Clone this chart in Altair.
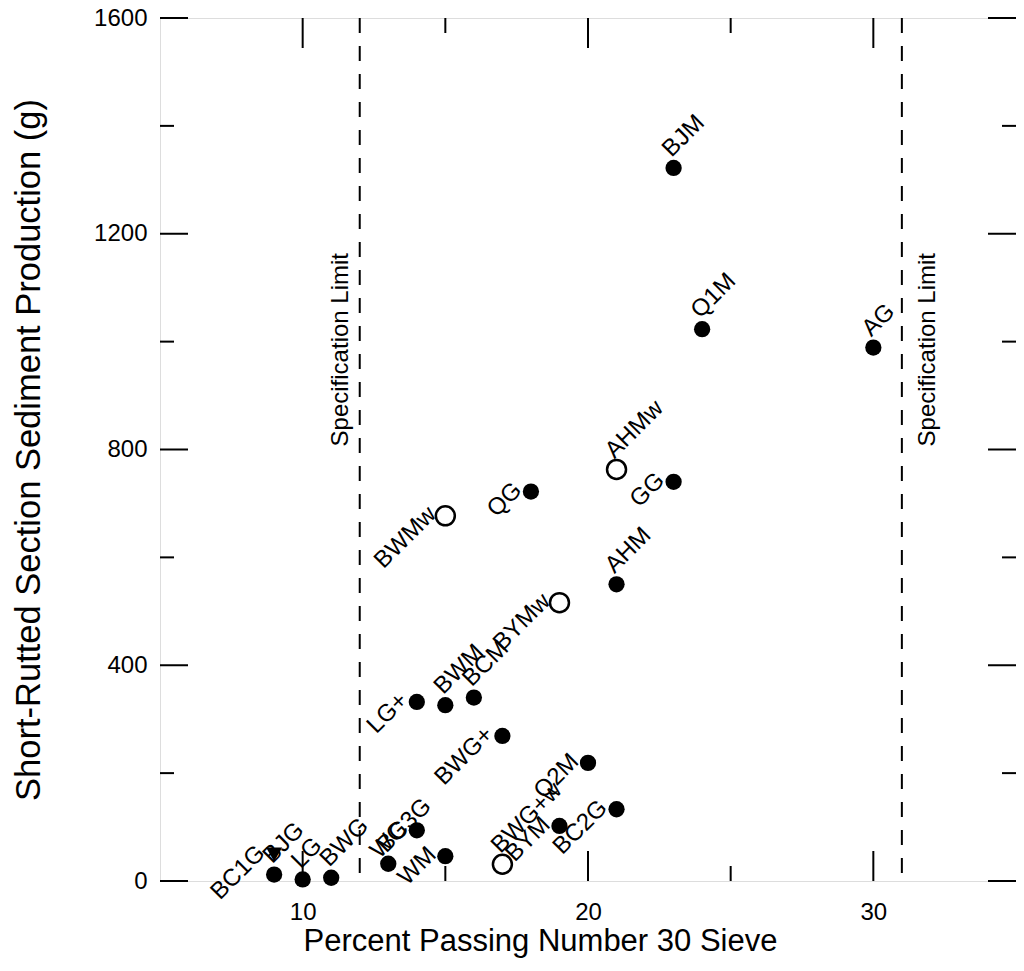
import altair as alt
import pandas as pd

# ---- data ----
names = ["BJM", "Q1M", "AG", "AHMw", "GG", "QG", "BWMw", "AHM", "BYMw",
         "LG+", "BWM", "BCM", "BWG+", "Q2M", "BC2G", "BYM", "BWG+w",
         "BJG", "BC1G", "LG", "BWG", "BC3G", "WG", "WM"]
pct_passing = [23, 24, 30, 21, 23, 18, 15, 21, 19,
               14, 15, 16, 17, 20, 21, 19, 17,
               9, 9, 10, 11, 13, 14, 15]
sediment = [1322, 1023, 989, 763, 740, 722, 677, 550, 516,
            332, 326, 340, 269, 219, 133, 102, 31,
            12, 49, 3, 6, 32, 94, 46]
marker = ["filled", "filled", "filled", "open", "filled", "filled", "open", "filled", "open",
          "filled", "filled", "filled", "filled", "filled", "filled", "filled", "open",
          "filled", "triangle", "filled", "filled", "filled", "filled", "filled"]
# label placement style: "up" = label starts at the point, "left" = label ends at the point
label_side = ["up", "up", "up", "up", "left", "left", "left", "up", "left",
              "left", "up", "up", "left", "left", "left", "left", "up",
              "up", "left", "up", "up", "up", "left", "left"]

x_major = [10, 20, 30]
x_minor = [15, 25]
y_major = [0, 400, 800, 1200, 1600]
y_minor = [200, 600, 1000, 1400]
spec_limits = [12, 31]
spec_text = "Specification Limit"
spec_text_y = 985

W, H = 856, 863
FONT = "Liberation Sans"

df = pd.DataFrame({"name": names, "x": pct_passing, "y": sediment,
                   "marker": marker, "side": label_side})

xs = alt.Scale(domain=[5, 35], nice=False, zero=False)
ys = alt.Scale(domain=[0, 1600], nice=False, zero=False)

x_axis = alt.Axis(values=x_major, format="d", title="Percent Passing Number 30 Sieve",
                  grid=False, ticks=False, tickSize=0, domain=False, labelFontSize=24,
                  labelFont=FONT, labelColor="black", labelPadding=19, labelFlush=False,
                  titleFontSize=31, titleFont=FONT, titleFontWeight="normal",
                  titleColor="black", titleX=380, titleY=60, titleBaseline="middle",
                  titleAlign="center")
y_axis = alt.Axis(values=y_major, format="d",
                  title="Short-Rutted Section Sediment Production (g)",
                  grid=False, ticks=False, tickSize=0, domain=False, labelFontSize=24,
                  labelFont=FONT, labelColor="black", labelPadding=13, labelFlush=False,
                  titleFontSize=34.5, titleFont=FONT, titleFontWeight="normal",
                  titleColor="black", titleX=-131, titleY=H / 2, titleBaseline="middle",
                  titleAlign="center", titleAngle=270)

base = alt.Chart(df)

lab_up = base.transform_filter(alt.datum.side == "up").mark_text(
    angle=315, align="left", baseline="alphabetic", xOffset=-2, yOffset=-10,
    fontSize=24, font=FONT, color="black"
).encode(x=alt.X("x:Q", scale=xs, axis=x_axis), y=alt.Y("y:Q", scale=ys, axis=y_axis),
         text="name:N")

lab_left = base.transform_filter(alt.datum.side == "left").mark_text(
    angle=315, align="right", baseline="alphabetic", xOffset=-8, yOffset=0,
    fontSize=24, font=FONT, color="black"
).encode(x=alt.X("x:Q", scale=xs), y=alt.Y("y:Q", scale=ys), text="name:N")

pts_filled = base.transform_filter(alt.datum.marker == "filled").mark_point(
    shape="circle", filled=True, color="black", size=265, opacity=1
).encode(x=alt.X("x:Q", scale=xs), y=alt.Y("y:Q", scale=ys))

pts_open = base.transform_filter(alt.datum.marker == "open").mark_point(
    shape="circle", filled=False, stroke="black", fill="white", fillOpacity=1,
    strokeWidth=2.5, size=360, opacity=1
).encode(x=alt.X("x:Q", scale=xs), y=alt.Y("y:Q", scale=ys))

pts_tri = base.transform_filter(alt.datum.marker == "triangle").mark_point(
    shape="triangle-down", filled=True, color="black", size=260, opacity=1
).encode(x=alt.X("x:Q", scale=xs), y=alt.Y("y:Q", scale=ys))

spec_df = pd.DataFrame({"x": spec_limits})
spec_lines = alt.Chart(spec_df).mark_rule(
    color="black", strokeWidth=2, strokeDash=[15, 13]
).encode(x=alt.X("x:Q", scale=xs), y=alt.value(0), y2=alt.value(H))

spec_lab_l = alt.Chart(pd.DataFrame({"x": [spec_limits[0]], "y": [spec_text_y]})).mark_text(
    angle=270, align="center", baseline="alphabetic", xOffset=-12,
    fontSize=24, font=FONT, color="black", text=spec_text
).encode(x=alt.X("x:Q", scale=xs), y=alt.Y("y:Q", scale=ys))

spec_lab_r = alt.Chart(pd.DataFrame({"x": [spec_limits[1]], "y": [spec_text_y]})).mark_text(
    angle=270, align="center", baseline="alphabetic", xOffset=33,
    fontSize=24, font=FONT, color="black", text=spec_text
).encode(x=alt.X("x:Q", scale=xs), y=alt.Y("y:Q", scale=ys))

# inward ticks on all four sides
def xticks(vals, length, top):
    c = alt.Chart(pd.DataFrame({"v": vals})).mark_rule(color="black", strokeWidth=2)
    if top:
        return c.encode(x=alt.X("v:Q", scale=xs), y=alt.value(0), y2=alt.value(length))
    return c.encode(x=alt.X("v:Q", scale=xs), y=alt.value(H), y2=alt.value(H - length))

def yticks(vals, length, right):
    c = alt.Chart(pd.DataFrame({"v": vals})).mark_rule(color="black", strokeWidth=2)
    if right:
        return c.encode(y=alt.Y("v:Q", scale=ys), x=alt.value(W), x2=alt.value(W - length))
    return c.encode(y=alt.Y("v:Q", scale=ys), x=alt.value(0), x2=alt.value(length))

ticks = [xticks(x_major, 30, False), xticks(x_minor, 15, False),
         xticks(x_major, 30, True), xticks(x_minor, 15, True),
         yticks(y_major, 28, False), yticks(y_minor, 14, False),
         yticks(y_major, 28, True), yticks(y_minor, 14, True)]

chart = alt.layer(
    lab_up, spec_lines, *ticks, spec_lab_l, spec_lab_r,
    lab_left, pts_filled, pts_open, pts_tri
).properties(
    width=W, height=H,
    autosize=alt.AutoSizeParams(type="none"),
    padding={"left": 152, "top": 10, "right": 0, "bottom": 80},
).configure_view(stroke="black", strokeWidth=2).configure(background="white")

chart.save("out.html", embed_options={"renderer": "svg", "actions": False})
